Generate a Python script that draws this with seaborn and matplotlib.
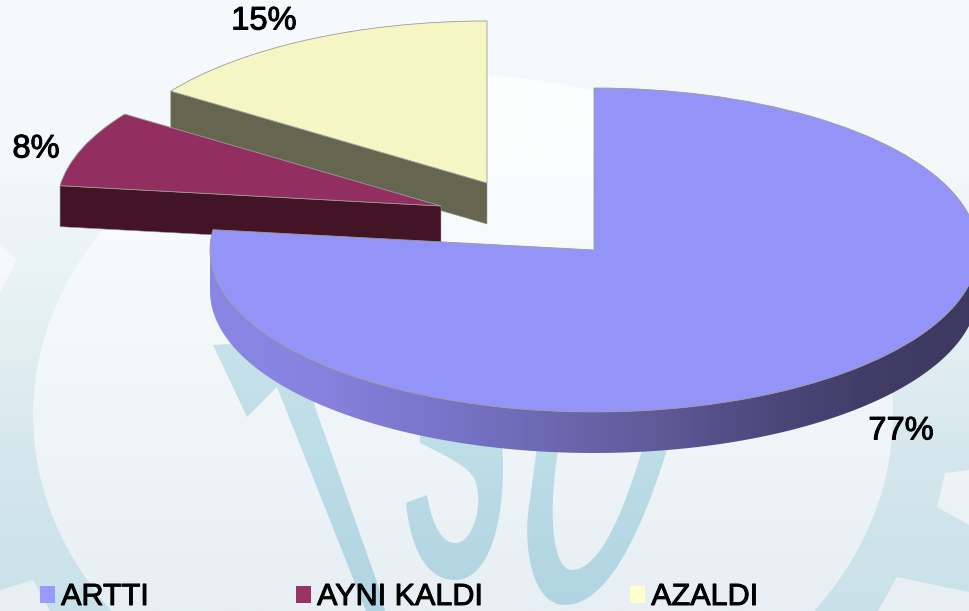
import numpy as np
import seaborn as sns
import matplotlib.pyplot as plt
import matplotlib.patheffects as pe
from matplotlib.patches import Ellipse, Patch, PathPatch, Polygon
from matplotlib.path import Path
from matplotlib.colors import ListedColormap

# slice shares, the labels are the rounded ones printed on the chart
categories = ['ARTTI', 'AYNI KALDI', 'AZALDI']
shares = [77, 7.6, 15.4]
share_labels = ['77%', '8%', '15%']

top_colors = ['#9494f8', '#932f60', '#f6f6c4']
wall_colors = ['#8a86e4', '#431326', '#666650']
legend_colors = ['#9999ff', '#993366', '#ffffcc']

W, H = 969, 611
RX, RY = 384, 162  # pie radii in pixels
DEPTH = 41


def ux(x):
    return x / RX


def uy(y):
    return (H - y) / RY


sns.set_theme(style='white')
plt.rcParams['font.family'] = ['Liberation Sans', 'DejaVu Sans']

fig = plt.figure(figsize=(W / 100, H / 100), dpi=100)
ax = fig.add_axes([0, 0, 1, 1])
full = (ux(0), ux(W), uy(H), uy(0))
bolder = [pe.withStroke(linewidth=0.7, foreground='black')]


def vgrad(colors, clip=None, z=0):
    # vertical gradient, top colour first
    cm = ListedColormap(sns.blend_palette(colors, 256))
    im = ax.imshow(np.linspace(0, 1, 256).reshape(-1, 1), cmap=cm, extent=full,
                   aspect='auto', origin='upper', zorder=z)
    if clip is not None:
        ax.add_patch(clip)
        clip.set_visible(False)
        im.set_clip_path(clip)
    return im


def pixpoly(pts):
    return Polygon([(ux(x), uy(y)) for x, y in pts], closed=True, transform=ax.transData)


def curved(parts):
    verts, codes = [], []
    for kind, pts in parts:
        for p in pts:
            verts.append((ux(p[0]), uy(p[1])))
        codes += {'M': [Path.MOVETO], 'L': [Path.LINETO], 'C': [Path.CURVE4] * 3}[kind]
    verts.append(verts[0])
    codes.append(Path.CLOSEPOLY)
    return PathPatch(Path(verts, codes), transform=ax.transData)


# background: watermark gear and letters
ring = ['#f7fafc', '#f4f8fa', '#e6f1f4', '#d5e7ec', '#c8e1e9']
inner = ['#fbfdfe', '#fbfdfe', '#f4f8fa', '#eef4f7', '#e7eff4']
letter = ['#d8eaf0', '#d8eaf0', '#cbe3ea', '#bddde7', '#b0d4e1']
vgrad(ring)
vgrad(inner, Ellipse((ux(463), uy(415)), 2 * 430 / RX, 2 * 340 / RY), z=0.1)
gaps = [
    [(0, 243), (17, 260), (0, 292)],
    [(0, 590), (33, 580), (50, 611), (0, 611)],
    [(945, 473), (969, 470), (969, 525), (937, 507)],
    [(897, 577), (969, 592), (969, 611), (878, 611)],
]
for g in gaps:
    vgrad(inner, pixpoly(g), z=0.1)

vgrad(letter, pixpoly([(213, 345), (247, 417), (277, 387), (295, 340)]), z=0.2)
vgrad(letter, pixpoly([(277, 387), (300, 340), (315, 407), (378, 585), (385, 611), (366, 611)]), z=0.2)
vgrad(letter, curved([
    ('M', [(500, 420)]),
    ('C', [(510, 500), (495, 580), (455, 580)]),
    ('C', [(425, 580), (410, 545), (406, 503)]),
    ('L', [(427, 495)]),
    ('C', [(432, 525), (442, 543), (455, 543)]),
    ('C', [(472, 543), (482, 510), (477, 487)]),
    ('C', [(475, 470), (455, 460), (420, 443)]),
    ('L', [(420, 420)]),
]), z=0.2)
vgrad(letter, curved([
    ('M', [(670, 440)]),
    ('C', [(640, 540), (605, 605), (565, 605)]),
    ('C', [(530, 605), (522, 540), (530, 500)]),
    ('L', [(538, 440)]),
    ('L', [(560, 440)]),
    ('C', [(548, 500), (550, 570), (572, 570)]),
    ('C', [(600, 570), (625, 510), (645, 440)]),
]), z=0.2)

# pie slices, each one pulled out by hand to its own centre
centers = [(594, 250), (441, 206), (487, 183)]
order = [2, 1, 0]
edge = dict(linewidth=0.6, edgecolor='#9a9a9a')
dz = DEPTH / RY
slices = {}
for n, i in enumerate(order):
    cx, cy = centers[i]
    wedges, _ = ax.pie(shares, colors=top_colors, center=(ux(cx), uy(cy)), radius=1,
                       startangle=90, counterclock=False, wedgeprops=edge)
    for j, w in enumerate(wedges):
        w.set_visible(j == i)
        w.set_zorder(2 + n * 2 + 1)
    slices[i] = wedges[i]

# radial walls of the two small slices
for n, i in enumerate(order[:2]):
    w = slices[i]
    a = np.deg2rad(w.theta2)
    c = np.array(w.center)
    rim = c + np.array([np.cos(a), np.sin(a)]) * w.r
    pts = [c, rim, rim - [0, dz], c - [0, dz]]
    ax.add_patch(Polygon(pts, closed=True, facecolor=wall_colors[i], edgecolor='#9a9a9a',
                         linewidth=0.4, zorder=2 + n * 2))

# outer wall of the big slice, shaded left to right
main = slices[0]
c = np.array(main.center)
th = np.deg2rad(np.linspace(-180, 0, 200))
top_edge = np.column_stack([c[0] + np.cos(th), c[1] + np.sin(th)])
outer = np.vstack([top_edge, (top_edge - [0, dz])[::-1]])
wall = Polygon(outer, closed=True, transform=ax.transData, facecolor='none', edgecolor='none')
ax.add_patch(wall)
shade = ListedColormap(sns.blend_palette(
    ['#8a86e4', '#8682de', '#7a76cc', '#6d6ab4', '#625c9c', '#4f4a80', '#423d68', '#3d3961'], 256))
im = ax.imshow(np.linspace(0, 1, 256).reshape(1, -1), cmap=shade, extent=(ux(210), ux(W), uy(H), uy(0)),
               aspect='auto', zorder=6)
im.set_clip_path(wall)

ax.set_aspect('auto')
ax.set_xlim(ux(0), ux(W))
ax.set_ylim(uy(H), uy(0))
ax.axis('off')

# percent labels
label_pos = [(901, 431), (36, 149), (264, 21)]
for txt, (x, y) in zip(share_labels, label_pos):
    ax.text(ux(x), uy(y), txt, fontsize=23.5, color='black', ha='center', va='center', zorder=10,
            path_effects=bolder)

handles = [Patch(facecolor=col, edgecolor='none', label=lab) for col, lab in zip(legend_colors, categories)]
leg = ax.legend(handles=handles, ncol=3, frameon=False, fontsize=22, loc='lower left', labelcolor='black',
                bbox_to_anchor=(40 / W, -1 / H), borderpad=0, borderaxespad=0,
                handlelength=0.49, handleheight=0.49, handletextpad=0.2, columnspacing=4.82)
for t in leg.get_texts():
    t.set_path_effects(bolder)

fig.savefig('out.png', dpi=100)
